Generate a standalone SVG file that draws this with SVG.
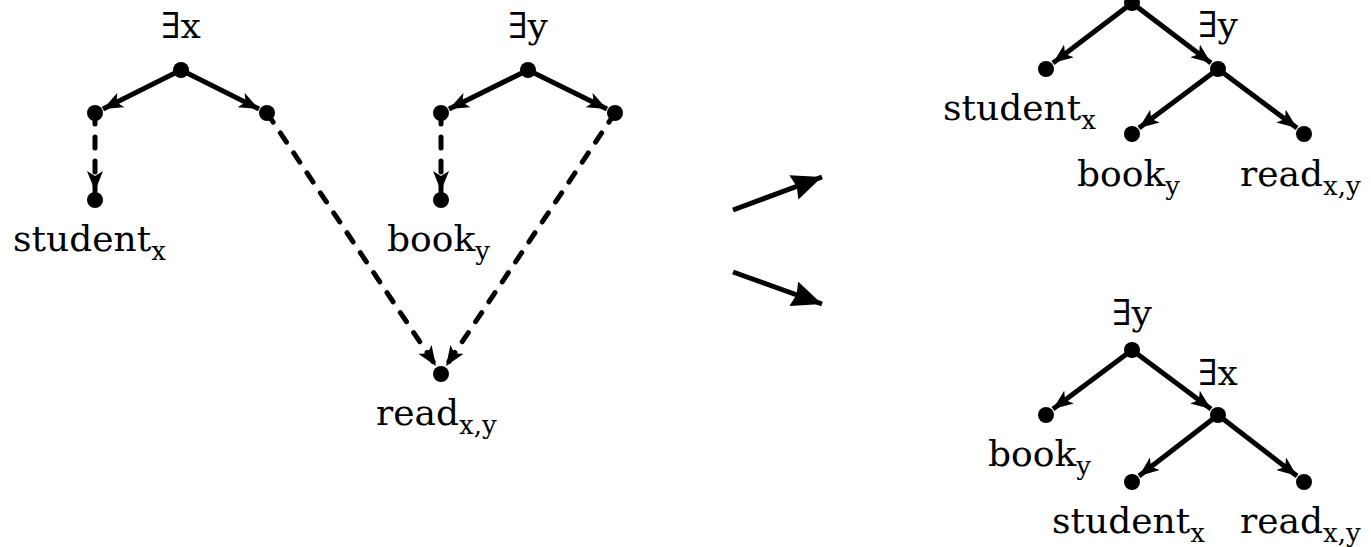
<svg xmlns="http://www.w3.org/2000/svg" width="1371" height="547" viewBox="0 0 1371 547">
<style>
.e{stroke:#000;stroke-width:5;fill:none;marker-end:url(#ah)}
.d{stroke:#000;stroke-width:5;fill:none;stroke-dasharray:11 13;stroke-linecap:round;marker-end:url(#ah)}
.t{font-family:"DejaVu Serif",serif;font-size:36px;fill:#000}
.s{font-size:26px}
circle{fill:#000}
</style>
<defs>
<marker id="ah" viewBox="0 0 20 16" refX="20" refY="8" markerWidth="20" markerHeight="16" markerUnits="userSpaceOnUse" orient="auto">
<path d="M0,0 L20,8 L0,16 L5,8 z" fill="#000"/>
</marker>
<marker id="bh" viewBox="0 0 30 26" refX="30" refY="13" markerWidth="30" markerHeight="26" markerUnits="userSpaceOnUse" orient="auto">
<path d="M0,0 L30,13 L0,26 L3,13 z" fill="#000"/>
</marker>
</defs>
<g id="connectors">
<line class="e" x1="181" y1="70" x2="103" y2="109"/>
<line class="e" x1="181" y1="70" x2="259" y2="109"/>
<line class="d" x1="95" y1="113" x2="95" y2="191"/>
<line class="e" x1="528" y1="70" x2="449" y2="109"/>
<line class="e" x1="528" y1="70" x2="607" y2="109"/>
<line class="d" x1="441" y1="113" x2="441" y2="191"/>
<line class="d" x1="267" y1="113" x2="436" y2="366"/>
<line class="d" x1="615" y1="113" x2="446" y2="366"/>
<line x1="733" y1="210" x2="822" y2="177" stroke="#000" stroke-width="5" marker-end="url(#bh)"/>
<line x1="733" y1="272" x2="822" y2="304" stroke="#000" stroke-width="5" marker-end="url(#bh)"/>
<line class="e" x1="1132" y1="3" x2="1053" y2="63"/>
<line class="e" x1="1132" y1="3" x2="1211" y2="63"/>
<line class="e" x1="1218" y1="69" x2="1139" y2="128"/>
<line class="e" x1="1218" y1="69" x2="1297" y2="128"/>
<line class="e" x1="1132" y1="350" x2="1053" y2="409"/>
<line class="e" x1="1132" y1="350" x2="1211" y2="409"/>
<line class="e" x1="1218" y1="415" x2="1139" y2="476"/>
<line class="e" x1="1218" y1="415" x2="1297" y2="476"/>
</g>
<g id="n-ex"><circle cx="181" cy="70" r="8"/><text class="t" x="181" y="38" text-anchor="middle">∃x</text></g>
<g id="n-ex-l"><circle cx="95" cy="113" r="8"/></g>
<g id="n-ex-r"><circle cx="267" cy="113" r="8"/></g>
<g id="n-student"><circle cx="95" cy="200" r="8"/><text class="t" x="13" y="251">student<tspan class="s" dy="9">x</tspan></text></g>
<g id="n-ey"><circle cx="528" cy="70" r="8"/><text class="t" x="528" y="38" text-anchor="middle">∃y</text></g>
<g id="n-ey-l"><circle cx="441" cy="113" r="8"/></g>
<g id="n-ey-r"><circle cx="615" cy="113" r="8"/></g>
<g id="n-book"><circle cx="441" cy="200" r="8"/><text class="t" x="387" y="251">book<tspan class="s" dy="9">y</tspan></text></g>
<g id="n-read"><circle cx="441" cy="374" r="8"/><text class="t" x="376" y="425">read<tspan class="s" dy="9">x,y</tspan></text></g>
<g id="t1-root"><circle cx="1132" cy="3" r="8"/></g>
<g id="t1-student"><circle cx="1046" cy="69" r="8"/><text class="t" x="943" y="120">student<tspan class="s" dy="9">x</tspan></text></g>
<g id="t1-ey"><circle cx="1218" cy="69" r="8"/><text class="t" x="1218" y="37" text-anchor="middle">∃y</text></g>
<g id="t1-book"><circle cx="1132" cy="134" r="8"/><text class="t" x="1077" y="186">book<tspan class="s" dy="9">y</tspan></text></g>
<g id="t1-read"><circle cx="1304" cy="134" r="8"/><text class="t" x="1240" y="186">read<tspan class="s" dy="9">x,y</tspan></text></g>
<g id="t2-root"><circle cx="1132" cy="350" r="8"/><text class="t" x="1132" y="325" text-anchor="middle">∃y</text></g>
<g id="t2-book"><circle cx="1046" cy="415" r="8"/><text class="t" x="988" y="466">book<tspan class="s" dy="9">y</tspan></text></g>
<g id="t2-ex"><circle cx="1218" cy="415" r="8"/><text class="t" x="1218" y="385" text-anchor="middle">∃x</text></g>
<g id="t2-student"><circle cx="1132" cy="482" r="8"/><text class="t" x="1052" y="533">student<tspan class="s" dy="9">x</tspan></text></g>
<g id="t2-read"><circle cx="1304" cy="482" r="8"/><text class="t" x="1240" y="533">read<tspan class="s" dy="9">x,y</tspan></text></g>
</svg>
